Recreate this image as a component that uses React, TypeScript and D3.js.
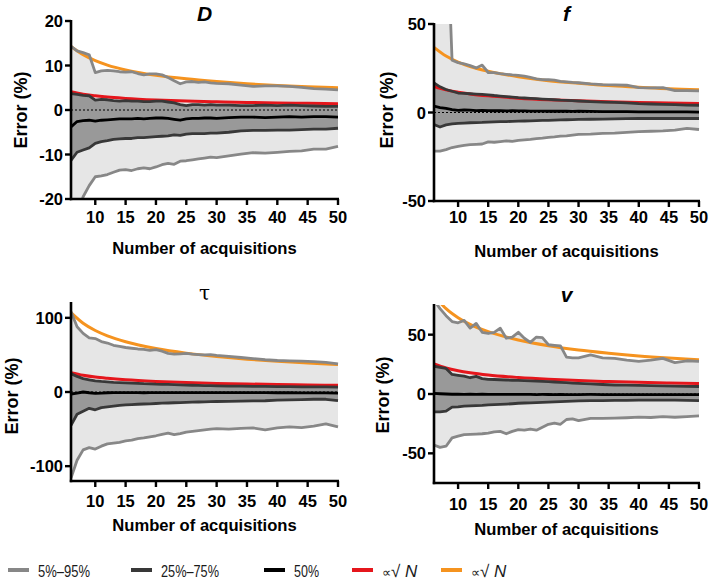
import React from 'react';
import * as d3 from 'd3';

// number of acquisitions at which the percentiles were sampled
const acq = [6, 7, 8, 9, 10, 11, 12, 13, 14, 15, 16, 17, 18, 19, 20, 21, 22, 23, 24, 25, 26, 27, 28, 29, 30, 32, 34, 36, 38, 40, 42, 44, 46, 48, 50];
// grid for the 1/sqrt(N) reference curves
const fitAcq = [6, 8, 10, 12, 15, 20, 25, 30, 35, 40, 45, 50];
const xTicks = [10, 15, 20, 25, 30, 35, 40, 45, 50];

// D
const dP95 = [14.3, 13.3, 12.9, 12.4, 8.4, 8.8, 8.9, 8.8, 8.6, 8.5, 8.6, 8.2, 7.9, 8.1, 8.1, 7.9, 7.3, 6.6, 5.9, 6.3, 6.4, 6.2, 6.3, 6.1, 6.0, 5.9, 5.6, 5.3, 5.4, 5.4, 5.3, 5.1, 4.8, 4.7, 4.5];
const dP75 = [3.7, 3.5, 3.3, 3.2, 2.2, 2.4, 2.3, 2.1, 2.0, 2.1, 2.0, 2.0, 1.9, 1.9, 2.0, 2.0, 1.8, 1.6, 1.2, 1.0, 1.2, 1.2, 1.1, 1.2, 1.1, 1.1, 1.0, 1.0, 1.1, 1.0, 1.1, 1.0, 0.9, 0.8, 0.8];
const dP50 = [-3.8, -2.6, -2.4, -2.3, -2.5, -2.3, -2.2, -2.1, -2.0, -2.0, -2.0, -1.9, -2.0, -1.9, -1.8, -1.8, -1.9, -2.1, -2.3, -2.0, -1.9, -1.9, -1.8, -1.8, -1.9, -1.7, -1.6, -1.6, -1.7, -1.6, -1.5, -1.6, -1.5, -1.5, -1.6];
const dP25 = [-11.3, -9.5, -9.0, -8.5, -7.5, -7.1, -6.9, -6.6, -6.5, -6.4, -6.4, -6.2, -6.2, -6.1, -6.0, -5.9, -5.8, -5.6, -5.7, -5.4, -5.3, -5.3, -5.3, -5.2, -5.2, -5.0, -4.7, -4.6, -4.6, -4.5, -4.5, -4.4, -4.3, -4.3, -4.1];
const dP5 = [-28, -24, -19.5, -17, -15.0, -14.8, -14.5, -14.0, -13.5, -13.4, -13.6, -13.2, -13.0, -13.2, -12.8, -12.3, -12.0, -12.2, -11.5, -11.4, -11.2, -11.0, -10.8, -10.6, -10.7, -10.3, -9.9, -9.6, -9.7, -9.5, -9.3, -9.2, -8.8, -8.8, -8.2];
const dRed = [4.1, 3.55, 3.2, 2.9, 2.6, 2.25, 2.0, 1.85, 1.7, 1.6, 1.5, 1.42];
const dOrange = [14.3, 12.4, 11.1, 10.1, 9.0, 7.8, 7.0, 6.4, 5.9, 5.5, 5.2, 5.0];

// f
const fP95 = [120, 120, 120, 29.5, 28.2, 27.5, 26.5, 25.2, 26.8, 22.6, 22.5, 22.0, 21.6, 21.2, 21.0, 20.6, 19.8, 19.0, 18.6, 18.5, 18.3, 17.6, 17.3, 17.0, 16.8, 16.2, 15.8, 15.6, 15.4, 14.0, 13.9, 14.0, 12.4, 12.4, 12.2];
const fP75 = [16.7, 14.5, 13.0, 12.0, 11.0, 10.8, 10.6, 10.4, 10.2, 10.0, 9.6, 9.3, 9.0, 8.7, 8.4, 8.2, 8.0, 7.8, 7.6, 7.4, 7.2, 7.0, 6.9, 6.7, 6.5, 6.2, 5.9, 5.7, 5.4, 5.0, 4.8, 4.6, 4.4, 4.2, 4.1];
const fP50 = [3.6, 2.8, 2.3, 1.6, 1.2, 1.4, 1.3, 1.1, 1.2, 1.1, 1.0, 1.0, 0.9, 1.0, 0.9, 0.9, 0.8, 0.8, 0.8, 0.7, 0.8, 0.7, 0.7, 0.6, 0.7, 0.6, 0.5, 0.5, 0.5, 0.4, 0.4, 0.3, 0.3, 0.3, 0.2];
const fP25 = [-6.8, -8.2, -7.0, -6.4, -6.2, -6.0, -5.8, -5.7, -5.6, -5.4, -5.3, -5.2, -5.1, -5.0, -4.9, -4.8, -4.7, -4.6, -4.5, -4.4, -4.3, -4.2, -4.1, -4.0, -3.9, -3.8, -3.7, -3.6, -3.5, -3.4, -3.4, -3.4, -3.3, -3.4, -3.4];
const fP5 = [-21.8, -21.8, -21.0, -19.8, -19.2, -18.6, -18.2, -18.0, -17.8, -16.6, -16.8, -16.4, -16.0, -16.3, -15.8, -15.5, -15.2, -14.8, -14.5, -14.0, -13.8, -13.4, -13.2, -12.8, -12.4, -12.2, -11.8, -11.6, -11.2, -10.8, -10.6, -10.4, -10.0, -9.0, -9.6];
const fRed = [14.8, 12.8, 11.5, 10.5, 9.4, 8.1, 7.2, 6.6, 6.1, 5.7, 5.4, 5.1];
const fOrange = [36.8, 31.9, 28.5, 26.0, 23.3, 20.2, 18.0, 16.5, 15.2, 14.3, 13.4, 12.9];

// tau
const tP95 = [108, 88, 79, 73, 72, 68, 66, 63, 61.5, 60, 59, 58, 57.5, 56, 57, 55, 52, 51, 51.5, 52, 51, 50.5, 50, 50.5, 49.5, 48, 46.5, 45, 43.5, 42.5, 42, 41.5, 41, 40, 38];
const tP75 = [24.8, 21, 18, 16.5, 15, 14.2, 13.6, 13, 12.6, 12.3, 12, 11.6, 11.2, 11, 10.6, 10.4, 10.2, 10, 9.6, 9.3, 9.1, 8.9, 8.7, 8.5, 8.3, 8, 7.8, 7.6, 7.5, 7.3, 7.2, 7, 6.9, 6.8, 6.5];
const tP50 = [-2.7, -1.5, 0, -1, -1.8, -1.5, -1.0, -0.8, -0.9, -0.8, -0.9, -0.8, -1.0, -0.9, -0.8, -0.9, -0.8, -0.9, -0.9, -0.8, -0.9, -0.8, -0.8, -0.9, -0.8, -0.9, -0.8, -0.9, -0.9, -1.0, -1.0, -1.1, -1.2, -1.2, -1.4];
const tP25 = [-45, -30, -26, -22, -24, -21, -20, -19, -18, -17.4, -17, -16.5, -16.2, -16, -15.5, -15, -14.8, -14.5, -14.4, -14, -13.6, -13.5, -13.3, -13, -12.8, -12.6, -12.3, -12, -11.8, -11, -10.6, -10.2, -9.8, -9.8, -11.5];
const tP5 = [-116, -92, -78, -75, -77, -73, -70, -69, -68, -66, -65, -63, -62, -60.5, -59, -57, -55.5, -57.5, -56, -54, -53, -52, -51, -50, -49.5, -50, -49, -48.5, -51, -48.5, -47, -48, -46, -43, -47];
const tRed = [26, 22.5, 20.1, 18.4, 16.4, 14.2, 12.7, 11.6, 10.8, 10.1, 9.5, 9.0];
const tOrange = [107, 92.7, 82.9, 75.7, 67.7, 58.6, 52.4, 47.9, 44.3, 41.4, 39.1, 37.1];

// v
const vP95 = [79, 72, 66, 61, 60, 62, 55.5, 59.5, 52, 51, 52, 55.5, 47, 48, 52, 47, 43.5, 48, 47.5, 41.5, 41, 40.5, 31, 30.5, 30.5, 33, 30.5, 30, 28.5, 27.5, 28.5, 30, 26.5, 28, 27.5];
const vP75 = [23.4, 22.5, 21.5, 16.5, 15.7, 15, 13.7, 14.8, 13, 12.4, 12.2, 12, 11.8, 11.6, 11.4, 11.2, 11, 10.8, 10.6, 10.4, 10.1, 9.8, 9.5, 9.2, 9, 8.6, 8, 7.6, 7.4, 7.2, 7, 6.8, 6.6, 6.4, 6.3];
const vP50 = [0.5, 0.2, 0, -0.2, -0.2, -0.3, -0.2, -0.3, -0.2, -0.3, -0.3, -0.3, -0.4, -0.3, -0.4, -0.3, -0.4, -0.5, -0.4, -0.4, -0.5, -0.4, -0.5, -0.5, -0.5, -0.4, -0.5, -0.5, -0.5, -0.5, -0.6, -0.5, -0.6, -0.6, -0.6];
const vP25 = [-15, -15, -14.5, -11, -10.8, -10.2, -10, -9.8, -9.6, -9.1, -9, -8.8, -8.5, -8.2, -7.8, -7.6, -7.4, -7.3, -7.1, -6.9, -6.7, -6.5, -6.2, -6, -5.8, -5.6, -5.5, -5.4, -5.3, -5.2, -5.2, -5.2, -5.2, -5.3, -5.5];
const vP5 = [-43, -45, -44, -37, -35.5, -34.3, -34, -33.8, -33.5, -33, -32, -31.5, -33.5, -31.5, -30, -30.5, -29.5, -30.5, -28, -25.5, -24.5, -25.5, -21.5, -21, -22.5, -20.5, -20.5, -20.3, -20, -19.5, -19.8, -19, -19.6, -19, -18.5];
const vRed = [25.3, 21.9, 19.6, 17.9, 16.0, 13.9, 12.4, 11.3, 10.5, 9.8, 9.2, 8.75];
const vOrange = [83, 71.9, 64.3, 58.7, 52.5, 45.5, 40.7, 37.1, 34.4, 32.1, 30.3, 28.8];

const legendLabels = ['5%\u201395%', '25%\u201375%', '50%', '\u221d\u221a ', '\u221d\u221a '];

const C = {
  outer: '#878787',
  inner: '#383838',
  median: '#000000',
  red: '#e5161c',
  orange: '#f5931f',
  fillOuter: '#e6e6e6',
  fillInner: '#999999',
};
const FONT = "'Liberation Sans', Arial, sans-serif";

const panels = [
  { key: 'D', title: 'D', titleStyle: 'bi', titleY: 21, p5: dP5, p25: dP25, p50: dP50, p75: dP75, p95: dP95, red: dRed, orange: dOrange,
    yDomain: [-20, 20], yTicks: [-20, -10, 0, 10, 20], x0: 71, x1: 338, yTop: 21, yBot: 199,
    ylabX: 21, ylabY: 110, tickY: 222.5, xlabY: 254 },
  { key: 'f', title: 'f', titleStyle: 'bi', titleY: 21, p5: fP5, p25: fP25, p50: fP50, p75: fP75, p95: fP95, red: fRed, orange: fOrange,
    yDomain: [-50, 50], yTicks: [-50, 0, 50], x0: 434, x1: 699, yTop: 24, yBot: 201,
    ylabX: 387, ylabY: 110, tickY: 222.5, xlabY: 257 },
  { key: 't', title: '\u03c4', titleStyle: 'serif', titleY: 300, p5: tP5, p25: tP25, p50: tP50, p75: tP75, p95: tP95, red: tRed, orange: tOrange,
    yDomain: [-120, 120], yTicks: [-100, 0, 100], x0: 71, x1: 338, yTop: 303, yBot: 481,
    ylabX: 12, ylabY: 396, tickY: 506.5, xlabY: 531 },
  { key: 'v', title: 'v', titleStyle: 'bi', titleY: 302, p5: vP5, p25: vP25, p50: vP50, p75: vP75, p95: vP95, red: vRed, orange: vOrange,
    yDomain: [-75, 75], yTicks: [-50, 0, 50], x0: 434, x1: 699, yTop: 305, yBot: 483,
    ylabX: 383, ylabY: 395, tickY: 510, xlabY: 535 },
];

function Panel({ p }: { p: any }) {
  const x = d3.scaleLinear().domain([6, 50]).range([p.x0, p.x1]);
  const y = d3.scaleLinear().domain(p.yDomain).range([p.yBot, p.yTop]);
  const rows = acq.map((n, i) => ({ n, p5: p.p5[i], p25: p.p25[i], p50: p.p50[i], p75: p.p75[i], p95: p.p95[i] }));
  const fits = fitAcq.map((n, i) => ({ n, red: p.red[i], orange: p.orange[i] }));

  const band = (lo: string, hi: string) =>
    d3.area<any>().x((d) => x(d.n)).y0((d) => y(d[lo])).y1((d) => y(d[hi]))(rows) || '';
  const line = (k: string) => d3.line<any>().x((d) => x(d.n)).y((d) => y(d[k]))(rows) || '';
  const fit = (k: string) =>
    d3.line<any>().curve(d3.curveMonotoneX).x((d) => x(d.n)).y((d) => y(d[k]))(fits) || '';

  const clipId = 'clip-' + p.key;
  const cx = (p.x0 + p.x1) / 2;

  return (
    <g>
      <defs>
        <clipPath id={clipId}>
          <rect x={p.x0} y={p.yTop} width={p.x1 - p.x0 + 2} height={p.yBot - p.yTop} />
        </clipPath>
      </defs>
      <g clipPath={`url(#${clipId})`}>
        <path d={band('p5', 'p95')} fill={C.fillOuter} />
        <path d={band('p25', 'p75')} fill={C.fillInner} />
        <line x1={p.x0} x2={p.x1} y1={y(0)} y2={y(0)} stroke="#000" strokeWidth={1.2} strokeDasharray="2,2" />
        <path d={fit('orange')} fill="none" stroke={C.orange} strokeWidth={3} />
        <path d={line('p95')} fill="none" stroke={C.outer} strokeWidth={2.8} strokeLinejoin="round" />
        <path d={line('p5')} fill="none" stroke={C.outer} strokeWidth={2.8} strokeLinejoin="round" />
        <path d={fit('red')} fill="none" stroke={C.red} strokeWidth={3} />
        <path d={line('p75')} fill="none" stroke={C.inner} strokeWidth={2.8} strokeLinejoin="round" />
        <path d={line('p25')} fill="none" stroke={C.inner} strokeWidth={2.8} strokeLinejoin="round" />
        <path d={line('p50')} fill="none" stroke={C.median} strokeWidth={2.8} strokeLinejoin="round" />
      </g>

      {/* y axis */}
      <line x1={p.x0} x2={p.x0} y1={p.yTop - 1} y2={p.yBot + 1.2} stroke="#000" strokeWidth={2.6} />
      {p.yTicks.map((t: number) => (
        <g key={'y' + t}>
          <line x1={p.x0 - 6} x2={p.x0} y1={y(t)} y2={y(t)} stroke="#000" strokeWidth={2.4} />
          <text x={p.x0 - 8} y={y(t) + 6} textAnchor="end" fontSize={16.5} fontWeight="bold" fontFamily={FONT}>
            {t}
          </text>
        </g>
      ))}
      {/* x axis */}
      <line x1={p.x0 - 1.2} x2={p.x1 + 1} y1={p.yBot} y2={p.yBot} stroke="#000" strokeWidth={2.6} />
      {xTicks.map((t) => (
        <g key={'x' + t}>
          <line x1={x(t)} x2={x(t)} y1={p.yBot} y2={p.yBot + 6} stroke="#000" strokeWidth={2.4} />
          <text x={x(t)} y={p.tickY} textAnchor="middle" fontSize={16.5} fontWeight="bold" fontFamily={FONT}>
            {t}
          </text>
        </g>
      ))}
      <text x={cx} y={p.xlabY} textAnchor="middle" fontSize={16.6} fontWeight="bold" fontFamily={FONT}>
        Number of acquisitions
      </text>
      <text
        transform={`translate(${p.ylabX},${p.ylabY}) rotate(-90)`}
        textAnchor="middle"
        dominantBaseline="central"
        fontSize={18}
        fontWeight="bold"
        fontFamily={FONT}
      >
        Error (%)
      </text>
      {p.titleStyle === 'serif' ? (
        <text x={cx} y={p.titleY} textAnchor="middle" fontSize={20} fontFamily="'DejaVu Serif', serif">
          {p.title}
        </text>
      ) : (
        <text x={cx} y={p.titleY} textAnchor="middle" fontSize={21} fontWeight="bold" fontStyle="italic" fontFamily={FONT}>
          {p.title}
        </text>
      )}
    </g>
  );
}

function Legend() {
  const colors = [C.outer, C.inner, C.median, C.red, C.orange];
  const starts = [8, 131, 264, 352, 441];
  const widths = [52, 58, 25, 0, 0];
  const ly = 570;
  return (
    <g>
      {legendLabels.map((lab, i) => (
        <g key={i}>
          <line x1={starts[i]} x2={starts[i] + 21} y1={ly} y2={ly} stroke={colors[i]} strokeWidth={4} />
          {i < 3 ? (
            <text x={starts[i] + 30} y={ly + 6.5} fontSize={17} fontFamily={FONT} fill="#1a1a1a"
              textLength={widths[i]} lengthAdjust="spacingAndGlyphs">
              {lab}
            </text>
          ) : (
            <text x={starts[i] + 30} y={ly + 6.5} fontSize={17} fontFamily={FONT} fill="#1a1a1a">
              <tspan fontSize={13}>{'\u221d'}</tspan>
              <tspan>{'\u221a '}</tspan>
              <tspan fontStyle="italic">N</tspan>
            </text>
          )}
        </g>
      ))}
    </g>
  );
}

export default function App() {
  return (
    <div style={{ position: 'absolute', left: 0, top: 0 }}>
      <svg width={709} height={581} style={{ display: 'block', background: '#fff' }}>
        {panels.map((p) => (
          <Panel key={p.key} p={p} />
        ))}
        <Legend />
      </svg>
    </div>
  );
}
